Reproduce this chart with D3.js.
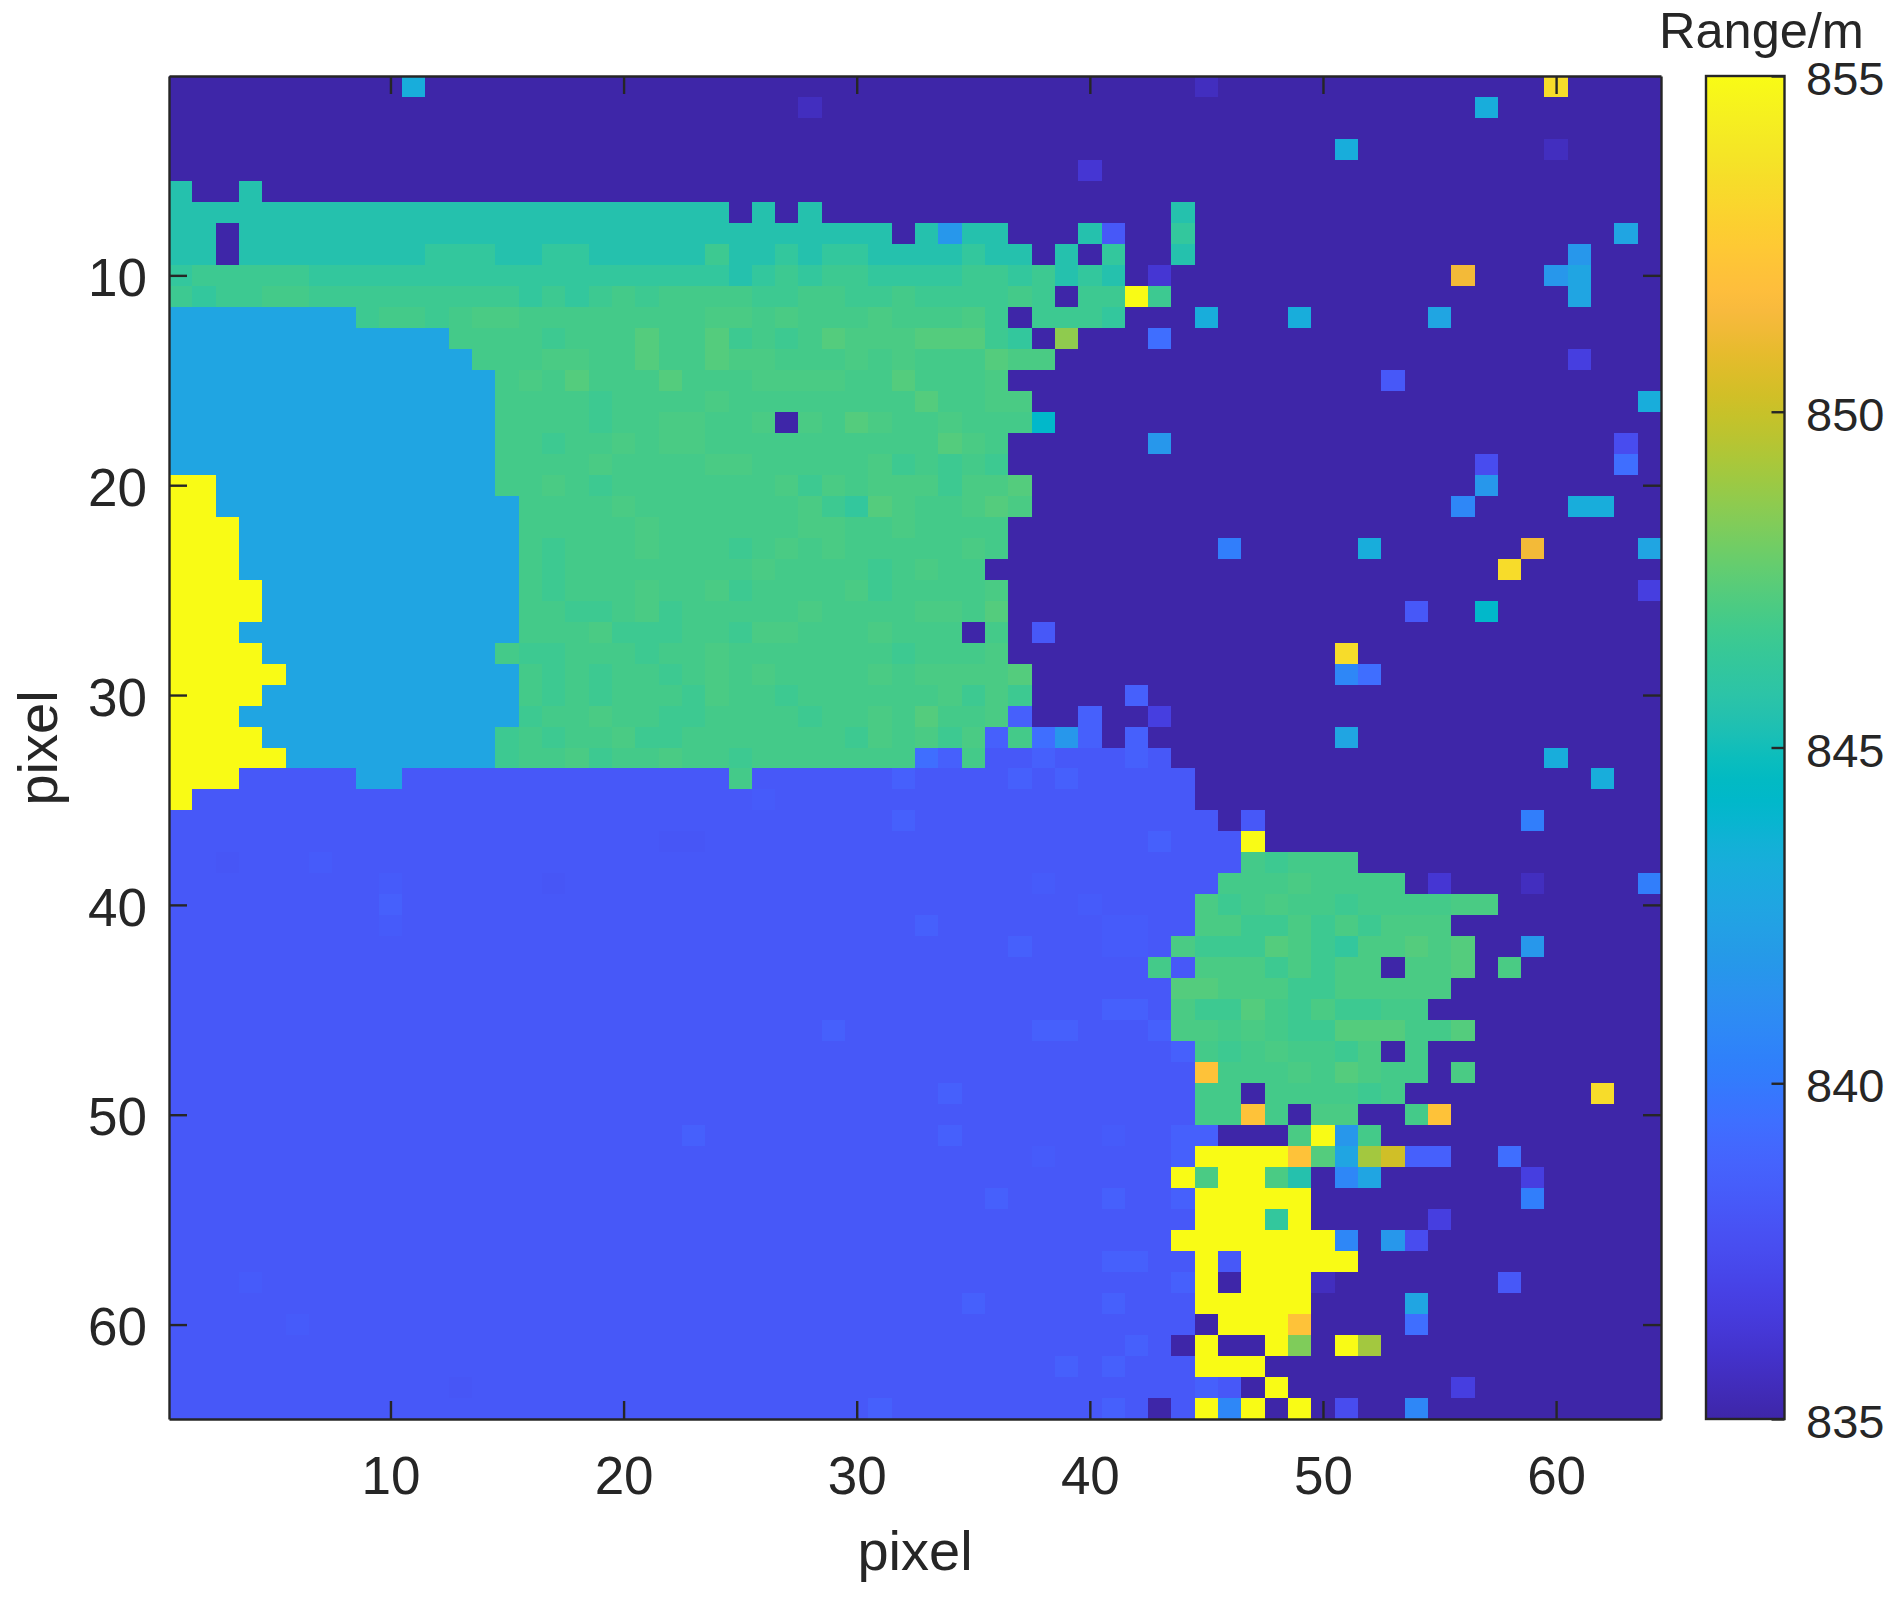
<!DOCTYPE html>
<html><head><meta charset="utf-8">
<script src="https://cdn.jsdelivr.net/npm/d3@7"></script>
<style>html,body{margin:0;padding:0;background:#fff}svg{display:block}text{font-family:"Liberation Sans",Arial,sans-serif;fill:#262626}</style>
</head><body><svg id="c" width="1896" height="1601"></svg>
<script>
// Each character is one pixel of the range image (m); codes map to the values below.
const levelCodes  = [".","p","q","r","s","a","b","i","c","d","e","f","h","l","m","n","t","u","v","g","j","k","w","x","z","A","B","C","D","y"];
const levelValues = [835,835.6,836.2,836.7,837.5,838.05,838.2,838.35,838.6,839.4,840.2,840.7,841.7,842.6,843.25,844.2,845.5,846.2,846.65,846.9,847.05,847.3,848.3,848.65,849.1,850.2,851.3,852.1,853.4,855];
const rangeRows = [
".......... m......... .......... .......... ....p..... .........D ....",
".......... .......... .......p.. .......... .......... ......m... ....",
".......... .......... .......... .......... .......... .......... ....",
".......... .......... .......... .......... .......... m........p ....",
".......... .......... .......... .........q .......... .......... ....",
"t..t...... .......... .......... .......... .......... .......... ....",
"tttttttttt tttttttttt tttt.t.t.. .......... ...t...... .......... ....",
"tt.ttttttt tttttttttt tttttttttt t.thtt...t b..u...... .......... ..l.",
"tt.ttttttt tuuuttuutt tttvttutuu ttttutt.t. u..t...... .......... h...",
"uvvvvvuuuu uuuuuuuuuu uuuutuvuvv uuuuvvuvtu t.q....... .....B...h l...",
"vuvvggvvvv vvvvvuvuvg vggggvvggv vgvvvvgv.v vyv....... .......... l...",
"llllllllvg gvgjjggggg gggjjgjggg jgggjv.vvv u...m...m. ....l..... ....",
"llllllllll llggggvggg kggkvgvgkj jjkkkvu.x. ..d....... .......... ....",
"llllllllll lllgggjjgg kggkjjgggj gjgggkjj.. .......... .......... r...",
"llllllllll llllgjgkgg gkgggjjjjg gkgggj.... .......... ..b....... ....",
"llllllllll llllggggvg gggjgggggg ggkggjj... .......... .......... ...m",
"llllllllll llllggggvg gjjggj.jgk jggjgggn.. .......... .......... ....",
"llllllllll llllggvggj gjjggggggg gggkjg.... ..h....... .......... ..s.",
"llllllllll llllggggjg gggjjggggg jvgvgv.... .......... ......s... ..d.",
"yyllllllll llllggjgvg ggggggjvjg jjjvjjk... .......... ......h... ....",
"yyllllllll lllllggggj gggggggjvu kjggjkj... .......... .....f.... mm..",
"yyylllllll lllllggggg jggggggjjg gjgggg.... .......... .......... ....",
"yyylllllll lllllgvggg jgggvgjgjg ggggjg.... .....e.... .m......B. ...l",
"yyylllllll lllllgvggg gggggjgggg vgjgg..... .......... .......D.. ....",
"yyyyllllll lllllgvggg jggjvggggj vggggj.... .......... .......... ...r",
"yyyyllllll lllllggvvg jvgggggjgg ggjjgk.... .......... ...b..n... ....",
"yyylllllll lllllgggjv vvggvjjggg jggg.g.b.. .......... .......... ....",
"yyyyllllll llllgvvggg vggjgggggg gvgggj.... .......... D......... ....",
"yyyyylllll lllllgvgvg gvgjgjgggg jgjjjjk... .......... fd........ ....",
"yyyyllllll lllllgvgvg ggvjggvggg gggjvjv... .c........ .......... ....",
"yyylllllll lllllvggjg gvvggggvgg jgkggjc..c ..r....... .......... ....",
"yyyyllllll llllvgvggj vvgggggggv jgjvjcgdhc .c........ l......... ....",
"yyyyylllll llllvggjvg gjggvggggg ggdcgbbcbb bcb....... .........m ....",
"yyybbbbbll bbbbbbbbbb bbbbgbbbbb bcbbbbcbcb bbbb...... .......... .m..",
"ybbbbbbbbb bbbbbbbbbb bbbbbibbbb bbbbbbbbbb bbbb...... .......... ....",
"bbbbbbbbbb bbbbbbbbbb bbbbbbbbbb bcbbbbbbbb bbbbb.b... ........e. ....",
"bbbbbbbbbb bbbbbbbbbb baabbbbbbb bbbbbbbbbb bbcbbby... .......... ....",
"bbabbbibbb bbbbbbbbbb bbbbbbbbbb bbbbbbbbbb bbbbbbgvgg g......... ....",
"bbbbbbbbbi bbbbbbabbb bbbbbbbbbb bbbbbbbibb bbbbbgggjg ggg.q...p. ...e",
"bbbbbbbbbc bbbbbbbbbb bbbbbbbbbb bbbbbbbbbi bbbbjvgjgg vggggjj... ....",
"bbbbbbbbbi bbbbbbbbbb bbbbbbbbbb bbcbbbbbbb iibbjjvvjv jvjjj..... ....",
"bbbbbbbbbb bbbbbbbbbb bbbbbbbbbb bbbbbbcbbb iibjvvvkjv ujjkjk..h. ....",
"bbbbbbbbbb bbbbbbbbbb bbbbbbbbbb bbbbbbbbbb bbgbjjjvjv jj.jjk.j.. ....",
"bbbbbbbbbb bbbbbbbbbb bbbbbbbbbb bbbbbbbbbb bbbkkjjjvv jjjjj..... ....",
"bbbbbbbbbb bbbbbbbbbb bbbbbbbbbb bbbbbbbbbb ccbjvvkgvj vvgg...... ....",
"bbbbbbbbbb bbbbbbbbbb bbbbbbbbcb bbbbbbbccb bbcjjgjgvv kkkggk.... ....",
"bbbbbbbbbb bbbbbbbbbb bbbbbbbbbb bbbbbbbbbb bbbcgvgjgg vj.g...... ....",
"bbbbbbbbbb bbbbbbbbbb bbbbbbbbbb bbbbbbbbbb bbbbCgggjg kjgg.j.... ....",
"bbbbbbbbbb bbbbbbbbbb bbbbbbbbbb bbbcbbbbbb bbbbgg.ggg gvg....... .D..",
"bbbbbbbbbb bbbbbbbbbb bbbbbbbbbb bbbbbbbbbb bbbbggCg.j j..gC..... ....",
"bbbbbbbbbb bbbbbbbbbb bbcbbbbbbb bbbcbbbbbb ibbcc...jy hg........ ....",
"bbbbbbbbbb bbbbbbbbbb bbbbbbbbbb bbbbbbbibb bbbcyyyyCk lzAcc..d.. ....",
"bbbbbbbbbb bbbbbbbbbb bbbbbbbbbb bbbbbbbbbb bbbyjyyjt. fl......r. ....",
"bbbbbbbbbb bbbbbbbbbb bbbbbbbbbb bbbbbcbbbb cbbcyyyyy. ........e. ....",
"bbbbbbbbbb bbbbbbbbbb bbbbbbbbbb bbbbbbbbbb bbbbyyyuy. ....r..... ....",
"bbbbbbbbbb bbbbbbbbbb bbbbbbbbbb bbbbbbbbbb bbbyyyyyyy f.hs...... ....",
"bbbbbbbbbb bbbbbbbbbb bbbbbbbbbb bbbbbbbbbb ccbbybyyyy y......... ....",
"bbbibbbbbb bbbbbbbbbb bbbbbbbbbb bbbbbbbbbb bbbcy.yyyp .......b.. ....",
"bbbbbbbbbb bbbbbbbbbb bbbbbbbbbb bbbbcbbbbb cbbbyyyyy. ...l...... ....",
"bbbbbibbbb bbbbbbbbbb bbbbbbbbbb bbbbbbbbbb bbbb.yyyC. ...d...... ....",
"bbbbbbbbbb bbbbbbbbbb bbbbbbbbbb bbbbbbbbbb bcb.y..yw. yz........ ....",
"bbbbbbbbbb bbbbbbbbbb bbbbbbbbbb bbbbbbbbcb cbbbyyy... .......... ....",
"bbbbbbbbbb bbabbbbbbb bbbbbbbbbb bbbbbbbbbb bbbbcb.y.. .....r.... ....",
"bbbbbbbbbb bbbbbbbbbb bbbbbbbbbb cbbbbbbbbb cb.byfy.y. s..f...... ...."
];
const axisTicks = [10,20,30,40,50,60];
const colorbarTicks = [835,840,845,850,855];
const xTitle = "pixel", yTitle = "pixel", colorbarTitle = "Range/m";
const parula = [[62,38,168],[64,42,180],[66,46,192],[67,50,203],[69,55,213],[70,60,222],[71,65,229],[71,71,235],[72,77,240],[72,82,244],[71,88,248],[70,94,251],[69,99,253],[66,105,254],[62,111,255],[56,117,254],[50,124,252],[47,129,250],[46,135,247],[45,140,243],[43,145,239],[39,150,235],[37,155,231],[35,160,229],[32,165,226],[28,169,223],[24,173,219],[18,177,214],[8,181,208],[1,184,202],[2,186,195],[11,189,189],[25,191,182],[36,193,174],[44,196,167],[49,198,159],[55,200,151],[63,202,142],[74,203,132],[87,204,122],[100,205,111],[114,205,100],[129,204,89],[143,203,78],[157,201,67],[171,199,57],[185,196,49],[197,194,42],[209,191,39],[220,189,41],[230,187,45],[240,186,54],[248,186,61],[254,190,60],[254,195,56],[254,201,52],[252,207,48],[250,214,45],[247,220,42],[245,227,39],[245,233,36],[246,239,32],[247,245,27],[249,251,21]].map(c=>d3.rgb(c[0],c[1],c[2]).formatHex());

const valueByCode = new Map(levelCodes.map((c,i)=>[c,levelValues[i]]));
const cells = rangeRows.flatMap((row,r)=>Array.from(row.replace(/ /g,""),(ch,c)=>({row:r+1,col:c+1,value:valueByCode.get(ch)})));

const W=1896,H=1601, L=169,R=1661,T=76,B=1419, CL=1706,CR=1784.5;
const svg=d3.select("#c");
const x=d3.scaleLinear().domain([0.5,64.5]).range([L,R]);
const y=d3.scaleLinear().domain([0.5,64.5]).range([T,B]);
const color=d3.scaleLinear().domain(parula.map((c,i)=>835+i/63*20)).range(parula);
const yC=d3.scaleLinear().domain([835,855]).range([B,T]);

svg.append("g").selectAll("rect").data(cells).join("rect")
  .attr("x",d=>x(d.col-.5)).attr("y",d=>y(d.row-.5))
  .attr("width",d=>x(d.col+.5)-x(d.col-.5)+.4).attr("height",d=>y(d.row+.5)-y(d.row-.5)+.4)
  .attr("fill",d=>color(d.value)).attr("shape-rendering","crispEdges");

function styleAxis(g,fs){
  g.selectAll("path,line").attr("stroke","#262626").attr("stroke-width",2.4);
  g.selectAll("text").attr("font-size",fs).style("fill","#262626");
}
const TS=18, FS=53;
svg.append("g").attr("transform",`translate(0,${B})`)
  .call(d3.axisBottom(x).tickValues(axisTicks).tickSizeInner(-TS).tickSizeOuter(0).tickPadding(37))
  .call(styleAxis,FS);
svg.append("g").attr("transform",`translate(0,${T})`)
  .call(d3.axisTop(x).tickValues(axisTicks).tickSizeInner(-TS).tickSizeOuter(0).tickFormat(""))
  .call(styleAxis,FS);
svg.append("g").attr("transform",`translate(${L},0)`)
  .call(d3.axisLeft(y).tickValues(axisTicks).tickSizeInner(-TS).tickSizeOuter(0).tickPadding(22))
  .call(styleAxis,FS).selectAll("text").attr("dy","0.38em");
svg.append("g").attr("transform",`translate(${R},0)`)
  .call(d3.axisRight(y).tickValues(axisTicks).tickSizeInner(-TS).tickSizeOuter(0).tickFormat(""))
  .call(styleAxis,FS);
svg.selectAll(".domain").attr("fill","none");

// colorbar
const grad=svg.append("defs").append("linearGradient").attr("id","parula").attr("x1",0).attr("x2",0).attr("y1",1).attr("y2",0);
grad.selectAll("stop").data(parula).join("stop").attr("offset",(d,i)=>i/63).attr("stop-color",d=>d);
svg.append("rect").attr("x",CL).attr("y",T).attr("width",CR-CL).attr("height",B-T)
  .attr("fill","url(#parula)").attr("stroke","#262626").attr("stroke-width",2.4);
svg.append("g").attr("transform",`translate(${CR},0)`)
  .call(d3.axisRight(yC).tickValues(colorbarTicks).tickSizeInner(-13).tickSizeOuter(0).tickPadding(21.5))
  .call(g=>g.select(".domain").remove())
  .call(g=>g.selectAll("line").attr("stroke","#262626").attr("stroke-width",2.4))
  .call(g=>g.selectAll("text").attr("font-size",47).attr("dy",18.5).style("fill","#262626"));

svg.append("text").attr("x",915).attr("y",1570).attr("text-anchor","middle").attr("font-size",56).text(xTitle);
svg.append("text").attr("transform","translate(57,748) rotate(-90)").attr("text-anchor","middle").attr("font-size",56).text(yTitle);
svg.append("text").attr("x",1659).attr("y",48).attr("font-size",50.5).text(colorbarTitle);
</script></body></html>
